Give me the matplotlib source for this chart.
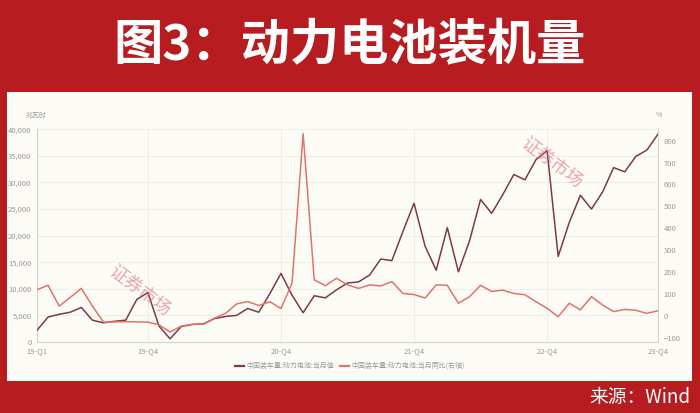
import matplotlib.pyplot as plt
from matplotlib.patches import Rectangle
from matplotlib.lines import Line2D
from matplotlib.ticker import FuncFormatter

plt.rcParams['font.family'] = ['Noto Sans CJK SC', 'DejaVu Sans']

# monthly data, Feb 2019 .. Oct 2023
install = [2200, 4700, 5200, 5600, 6500, 4100, 3600, 3900, 4100, 8000,
           9300, 3000, 600, 2900, 3300, 3400, 4400, 4800, 5000, 6300,
           5600, 9100, 12900, 8800, 5500, 8700, 8300, 9800, 11100, 11300,
           12600, 15600, 15300, 20800, 26100, 18000, 13500, 21500, 13200, 19000,
           26800, 24200, 27700, 31500, 30500, 34300, 36000, 16100, 22500, 27600,
           25000, 28200, 32800, 32000, 34900, 36100, 39100]
yoy = [120, 140, 45, 85, 126, 45, -28, -27, -26, -27,
       -28, -40, -73, -46, -38, -37, -10, 12, 55, 66,
       48, 65, 34, 150, 832, 165, 138, 172, 142, 126,
       142, 137, 157, 103, 98, 82, 142, 140, 58, 88,
       140, 112, 118, 103, 97, 65, 35, -3, 58, 28,
       88, 50, 20, 30, 26, 12, 24]
tick_pos = [0, 10, 22, 34, 46, 56]
tick_labels = ['19-Q1', '19-Q4', '20-Q4', '21-Q4', '22-Q4', '23-Q4']
name1 = '中国装车量:动力电池:当月值'
name2 = '中国装车量:动力电池:当月同比(右轴)'

red = '#B71C20'
panel = '#FCFBF5'
dark_c = '#7D3A4B'
red_c = '#E3726C'
grey = '#9A9A9A'

W, H = 700, 413
fig = plt.figure(figsize=(7, 4.13), dpi=100)
fig.patch.set_facecolor(red)
fig.add_artist(Rectangle((7 / W, 1 - 381 / H), (692 - 7) / W, (381 - 92) / H,
                         transform=fig.transFigure, facecolor=panel,
                         edgecolor='none', zorder=0))

ax = fig.add_axes([37 / W, 1 - 342 / H, (658 - 37) / W, (342 - 129.3) / H])
ax.set_facecolor(panel)
x = list(range(len(install)))
ax.plot(x, install, color=dark_c, lw=1.1, zorder=3, solid_joinstyle='round')
ax.set_xlim(0, 56)
ax.set_ylim(0, 40000)
ax.set_yticks(range(0, 40001, 5000))
ax.yaxis.set_major_formatter(FuncFormatter(lambda v, p: '{:,.0f}'.format(v)))
ax.set_xticks(tick_pos)
ax.set_xticklabels(tick_labels)
ax.grid(axis='y', color='#EDECE4', lw=0.6)
ax.grid(axis='x', color='#EDECE4', lw=0.6)
ax.tick_params(length=0, labelsize=5.5, labelcolor=grey, pad=4)
for s in ['top', 'right']:
    ax.spines[s].set_visible(False)
for s in ['left', 'bottom']:
    ax.spines[s].set_color('#D5D5D0')
    ax.spines[s].set_linewidth(0.8)

ax2 = ax.twinx()
ax2.plot(x, yoy, color=red_c, lw=1.1, zorder=3, solid_joinstyle='round')
ax2.set_ylim(-118.6, 851.7)
ax2.set_yticks(range(-100, 801, 100))
ax2.tick_params(length=0, labelsize=5.5, labelcolor=grey, pad=4)
for s in ['top', 'left', 'bottom']:
    ax2.spines[s].set_visible(False)
ax2.spines['right'].set_color('#D5D5D0')
ax2.spines['right'].set_linewidth(0.8)

fig.text(36 / W, 1 - 116 / H, '兆瓦时', fontsize=5, color=grey, ha='center', va='center')
fig.text(659 / W, 1 - 115 / H, '%', fontsize=5, color=grey, ha='center', va='center')

handles = [Line2D([], [], color=dark_c, lw=1.6), Line2D([], [], color=red_c, lw=1.6)]
fig.legend(handles, [name1, name2], loc='center', bbox_to_anchor=(0.5, 1 - 366 / H),
           ncol=2, frameon=False, fontsize=5, labelcolor=grey,
           handlelength=1.3, handletextpad=0.4, columnspacing=0.8)

# watermarks
fig.text(140 / W, 1 - 291 / H, '证券市场', rotation=-37, fontsize=13, color='#E36A78',
         alpha=0.6, ha='center', va='center')
fig.text(552 / W, 1 - 163 / H, '证券市场', rotation=-37, fontsize=13, color='#E36A78',
         alpha=0.6, ha='center', va='center')

fig.text(0.5, 1 - 46 / H, '图3：动力电池装机量', fontsize=35.5, fontweight='heavy',
         color='white', ha='center', va='center')
fig.text(690 / W, 1 - 397 / H, '来源：Wind', fontsize=13.5, color='white',
         ha='right', va='center')

fig.savefig('out.png', dpi=100, facecolor=fig.get_facecolor())
